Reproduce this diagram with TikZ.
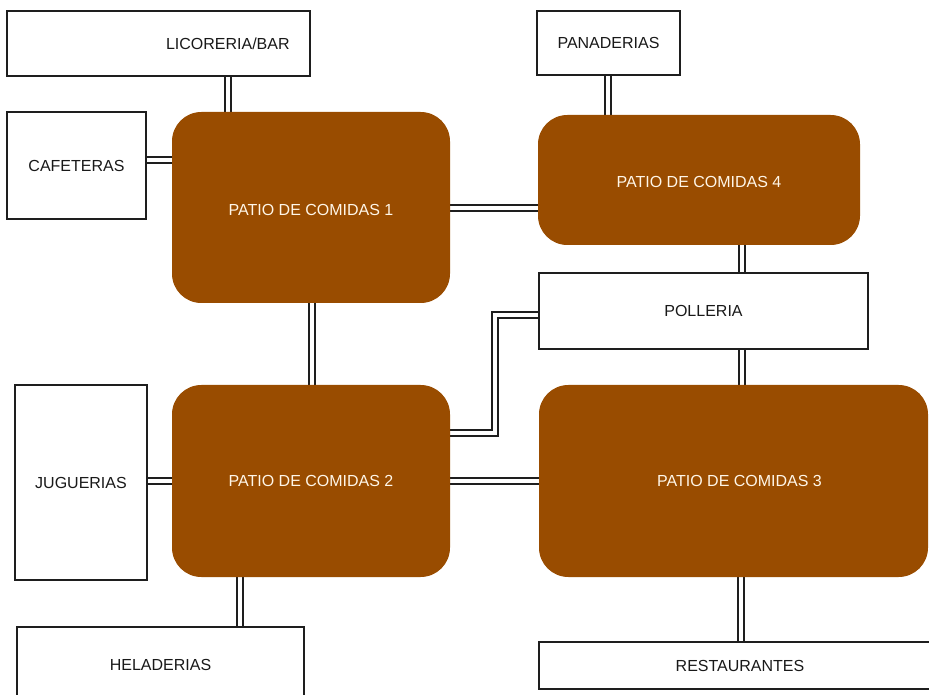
\documentclass[tikz,border=0pt]{standalone}
\usepackage{fontspec}
\setmainfont{Liberation Sans}
\usetikzlibrary{backgrounds}
\definecolor{patio}{RGB}{153,76,0}
\definecolor{patiotext}{RGB}{255,246,232}
\definecolor{edge}{RGB}{30,30,30}
\definecolor{ink}{RGB}{25,25,25}
\begin{document}
\begin{tikzpicture}[x=0.75pt,y=-0.75pt,
  font=\fontsize{12pt}{14pt}\selectfont,
  whitebox/.style={draw=edge, line width=1pt, fill=white, inner sep=0pt, text=ink},
  patiobox/.style={fill=patio, draw=none, rounded corners=22pt, inner sep=0pt, text=patiotext},
  conn/.style={draw=edge, line width=1.1pt, double=white, double distance=3.3pt}]
\useasboundingbox (0,0) rectangle (929,695);
% white boxes
\node[whitebox, minimum width=227.25pt, minimum height=48.75pt,
  label={[xshift=52pt,text=ink]center:LICORERIA/BAR}] (lic) at (158.5,43.5) {};
\node[whitebox, minimum width=107.25pt, minimum height=48pt] (pan) at (608.5,43) {PANADERIAS};
\node[whitebox, minimum width=104.25pt, minimum height=80.25pt] (caf) at (76.5,165.5) {CAFETERAS};
\node[whitebox, minimum width=246.75pt, minimum height=57pt] (pol) at (703.5,311) {POLLERIA};
\node[whitebox, minimum width=99pt, minimum height=146.25pt] (jug) at (81,482.5) {JUGUERIAS};
\node[whitebox, minimum width=215.25pt, minimum height=57pt] (hel) at (160.5,665) {HELADERIAS};
\node[whitebox, minimum width=301.5pt, minimum height=35.25pt] (res) at (740,665.5) {RESTAURANTES};
% patios
\node[patiobox, minimum width=208.5pt, minimum height=143.25pt,
  label={[text=patiotext,yshift=-2pt]center:PATIO DE COMIDAS 1}] (p1) at (311,207.5) {};
\node[patiobox, minimum width=241.5pt, minimum height=97.5pt,
  label={[text=patiotext,yshift=-1.5pt]center:PATIO DE COMIDAS 4}] (p4) at (699,180) {};
\node[patiobox, minimum width=208.5pt, minimum height=144pt] (p2) at (311,481) {PATIO DE COMIDAS 2};
\node[patiobox, minimum width=291.75pt, minimum height=144pt] (p3) at (733.5,481) {\hspace*{9pt}PATIO DE COMIDAS 3};
% connector guide coordinates
\coordinate (xa) at (228,0);
\coordinate (xb) at (608,0);
\coordinate (xc) at (742,0);
\coordinate (xd) at (312,0);
\coordinate (xe) at (240,0);
\coordinate (xf) at (741,0);
\coordinate (ya) at (0,160);
\coordinate (yb) at (0,208);
\coordinate (yc) at (0,481);
\coordinate (yd) at (0,433);
\coordinate (ye) at (0,315);
\coordinate (bend1) at (495,433);
\coordinate (bend2) at (495,315);
\begin{scope}[on background layer]
\draw[conn] (lic.south -| xa) -- (p1.north -| xa);
\draw[conn] (caf.east |- ya) -- (p1.west |- ya);
\draw[conn] (pan.south -| xb) -- (p4.north -| xb);
\draw[conn] (p1.east |- yb) -- (p4.west |- yb);
\draw[conn] (p4.south -| xc) -- (pol.north -| xc);
\draw[conn] (p1.south -| xd) -- (p2.north -| xd);
\draw[conn] (pol.south -| xc) -- (p3.north -| xc);
\draw[conn] (p2.east |- yd) -- (bend1) -- (bend2) -- (pol.west |- ye);
\draw[conn] (jug.east |- yc) -- (p2.west |- yc);
\draw[conn] (p2.east |- yc) -- (p3.west |- yc);
\draw[conn] (p2.south -| xe) -- (hel.north -| xe);
\draw[conn] (p3.south -| xf) -- (res.north -| xf);
\end{scope}
\end{tikzpicture}
\end{document}
